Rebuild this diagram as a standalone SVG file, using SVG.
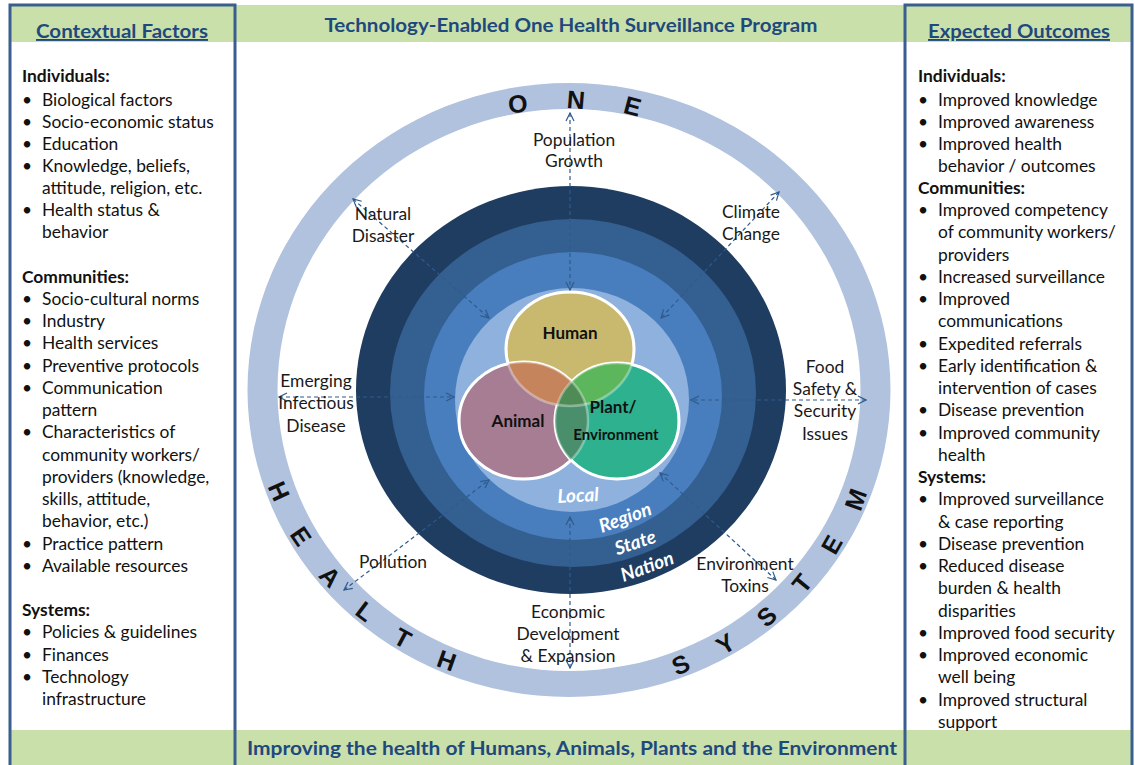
<svg xmlns="http://www.w3.org/2000/svg" width="1135" height="765" viewBox="0 0 1135 765">
<style>
.band{fill:#C9E0AB}
.box{fill:none;stroke:#3A5F8F;stroke-width:3}
.hdr{font-family:Lato,'Liberation Sans',sans-serif;font-weight:bold;font-size:19px;fill:#1F497D}
.li{font-family:Lato,'Liberation Sans',sans-serif;font-size:17.4px;fill:#111}
.lh{font-family:Lato,'Liberation Sans',sans-serif;font-size:17.4px;font-weight:bold;fill:#111}
.lbl{font-family:Lato,'Liberation Sans',sans-serif;font-size:17.4px;fill:#1a1a1a;text-anchor:middle}
.venn{font-family:Lato,'Liberation Sans',sans-serif;font-weight:bold;fill:#111;text-anchor:middle}
.lvl{font-family:Lato,'Liberation Sans',sans-serif;font-weight:bold;font-style:italic;font-size:19px;fill:#fff;text-anchor:middle}
.ring{font-family:'Liberation Sans',Arial,sans-serif;font-weight:bold;font-size:25px;fill:#111}
.con{fill:none;stroke:#2F5A8C;stroke-width:1.2;stroke-dasharray:4 3}
.wl{stroke:#fff;stroke-width:3}
</style>
<defs>
<marker id="ah" viewBox="0 0 10 10" refX="9" refY="5" markerWidth="10" markerHeight="10" markerUnits="userSpaceOnUse" orient="auto-start-reverse">
<path d="M1,1 L9,5 L1,9" fill="none" stroke="#2F5A8C" stroke-width="1.2"/>
</marker>
<path id="pTop" d="M 274,390 A 295 281 0 0 1 864,390"/>
<path id="pBot" d="M 252,390 A 317 303 0 0 0 886,390"/>
<clipPath id="cH"><ellipse cx="570" cy="349" rx="64" ry="57"/></clipPath>
<clipPath id="cA"><ellipse cx="523.5" cy="420.5" rx="64.5" ry="58.5"/></clipPath>
</defs>
<rect width="1135" height="765" fill="#fff"/>

<g id="bands">
<rect class="band" x="10" y="5" width="1122" height="37"/>
<rect class="band" x="10" y="730" width="1122" height="35"/>
</g>

<g id="title">
<text class="hdr" x="571" y="32" text-anchor="middle" textLength="493" lengthAdjust="spacingAndGlyphs">Technology-Enabled One Health Surveillance Program</text>
</g>
<g id="footer">
<text class="hdr" x="572" y="755" text-anchor="middle" textLength="650" lengthAdjust="spacingAndGlyphs">Improving the health of Humans, Animals, Plants and the Environment</text>
</g>

<g id="contextual-factors">
<rect class="box" x="10" y="5" width="225" height="780"/>
<text class="hdr" x="122" y="38" text-anchor="middle" text-decoration="underline" textLength="172" lengthAdjust="spacingAndGlyphs">Contextual Factors</text>
<text class="lh" x="22" y="82">Individuals:</text>
<text class="li"><tspan x="22" y="105.5">•</tspan><tspan x="42" y="105.5">Biological factors</tspan>
<tspan x="22" y="127.5">•</tspan><tspan x="42" y="127.5">Socio-economic status</tspan>
<tspan x="22" y="149.5">•</tspan><tspan x="42" y="149.5">Education</tspan>
<tspan x="22" y="171.5">•</tspan><tspan x="42" y="171.5">Knowledge, beliefs,</tspan>
<tspan x="42" y="193.75">attitude, religion, etc.</tspan>
<tspan x="22" y="216">•</tspan><tspan x="42" y="216">Health status &amp;</tspan>
<tspan x="42" y="238.25">behavior</tspan></text>
<text class="lh" x="22" y="282.5">Communities:</text>
<text class="li"><tspan x="22" y="304.75">•</tspan><tspan x="42" y="304.75">Socio-cultural norms</tspan>
<tspan x="22" y="327">•</tspan><tspan x="42" y="327">Industry</tspan>
<tspan x="22" y="349.25">•</tspan><tspan x="42" y="349.25">Health services</tspan>
<tspan x="22" y="371.5">•</tspan><tspan x="42" y="371.5">Preventive protocols</tspan>
<tspan x="22" y="393.75">•</tspan><tspan x="42" y="393.75">Communication</tspan>
<tspan x="42" y="416">pattern</tspan>
<tspan x="22" y="438.25">•</tspan><tspan x="42" y="438.25">Characteristics of</tspan>
<tspan x="42" y="460.5">community workers/</tspan>
<tspan x="42" y="482.75">providers (knowledge,</tspan>
<tspan x="42" y="505">skills, attitude,</tspan>
<tspan x="42" y="527.25">behavior, etc.)</tspan>
<tspan x="22" y="549.5">•</tspan><tspan x="42" y="549.5">Practice pattern</tspan>
<tspan x="22" y="571.75">•</tspan><tspan x="42" y="571.75">Available resources</tspan></text>
<text class="lh" x="22" y="616">Systems:</text>
<text class="li"><tspan x="22" y="638.25">•</tspan><tspan x="42" y="638.25">Policies &amp; guidelines</tspan>
<tspan x="22" y="660.5">•</tspan><tspan x="42" y="660.5">Finances</tspan>
<tspan x="22" y="682.75">•</tspan><tspan x="42" y="682.75">Technology</tspan>
<tspan x="42" y="705">infrastructure</tspan></text>
</g>

<g id="expected-outcomes">
<rect class="box" x="905" y="5" width="227" height="780"/>
<text class="hdr" x="1019" y="38" text-anchor="middle" text-decoration="underline" textLength="182" lengthAdjust="spacingAndGlyphs">Expected Outcomes</text>
<text class="lh" x="918" y="82">Individuals:</text>
<text class="li"><tspan x="918" y="105.5">•</tspan><tspan x="938" y="105.5">Improved knowledge</tspan>
<tspan x="918" y="127.5">•</tspan><tspan x="938" y="127.5">Improved awareness</tspan>
<tspan x="918" y="149.5">•</tspan><tspan x="938" y="149.5">Improved health</tspan>
<tspan x="938" y="171.5">behavior / outcomes</tspan></text>
<text class="lh" x="918" y="193.75">Communities:</text>
<text class="li"><tspan x="918" y="216">•</tspan><tspan x="938" y="216">Improved competency</tspan>
<tspan x="938" y="238.25">of community workers/</tspan>
<tspan x="938" y="260.5">providers</tspan>
<tspan x="918" y="282.75">•</tspan><tspan x="938" y="282.75">Increased surveillance</tspan>
<tspan x="918" y="305">•</tspan><tspan x="938" y="305">Improved</tspan>
<tspan x="938" y="327.25">communications</tspan>
<tspan x="918" y="349.5">•</tspan><tspan x="938" y="349.5">Expedited referrals</tspan>
<tspan x="918" y="371.75">•</tspan><tspan x="938" y="371.75">Early identification &amp;</tspan>
<tspan x="938" y="394">intervention of cases</tspan>
<tspan x="918" y="416.25">•</tspan><tspan x="938" y="416.25">Disease prevention</tspan>
<tspan x="918" y="438.5">•</tspan><tspan x="938" y="438.5">Improved community</tspan>
<tspan x="938" y="460.75">health</tspan></text>
<text class="lh" x="918" y="483">Systems:</text>
<text class="li"><tspan x="918" y="505.25">•</tspan><tspan x="938" y="505.25">Improved surveillance</tspan>
<tspan x="938" y="527.5">&amp; case reporting</tspan>
<tspan x="918" y="549.75">•</tspan><tspan x="938" y="549.75">Disease prevention</tspan>
<tspan x="918" y="572">•</tspan><tspan x="938" y="572">Reduced disease</tspan>
<tspan x="938" y="594.25">burden &amp; health</tspan>
<tspan x="938" y="616.5">disparities</tspan>
<tspan x="918" y="638.75">•</tspan><tspan x="938" y="638.75">Improved food security</tspan>
<tspan x="918" y="661">•</tspan><tspan x="938" y="661">Improved economic</tspan>
<tspan x="938" y="683.25">well being</tspan>
<tspan x="918" y="705.5">•</tspan><tspan x="938" y="705.5">Improved structural</tspan>
<tspan x="938" y="727.5">support</tspan></text>
</g>

<g id="one-health-system-ring">
<path fill="#B0C2DE" fill-rule="evenodd" d="M 247.5,390 a 321.5 307 0 1 0 643 0 a 321.5 307 0 1 0 -643 0 Z M 277.5,390 a 291.5 281 0 1 0 583 0 a 291.5 281 0 1 0 -583 0 Z"/>
<text class="ring" letter-spacing="38"><textPath href="#pTop" startOffset="392">ONE</textPath></text>
<text class="ring" letter-spacing="34"><textPath href="#pBot" startOffset="98">HEALTH</textPath></text>
<text class="ring" letter-spacing="34"><textPath href="#pBot" startOffset="596">SYSTEM</textPath></text>
</g>

<g id="nation"><ellipse cx="571" cy="390" rx="215" ry="204" fill="#1F3D60"/></g>
<g id="state"><ellipse cx="573" cy="393" rx="183" ry="174" fill="#345F91"/></g>
<g id="region"><ellipse cx="573" cy="396" rx="149" ry="144" fill="#487EBE"/></g>
<g id="local"><ellipse cx="572" cy="400" rx="117" ry="112" fill="#8EB1DE"/></g>

<g id="venn">
<g id="human"><ellipse class="wl" cx="570" cy="349" rx="64" ry="57" fill="#C8B96E"/></g>
<g id="animal"><ellipse class="wl" cx="523.5" cy="420.5" rx="64.5" ry="58.5" fill="#A67D93"/></g>
<g id="plant"><ellipse class="wl" cx="617" cy="421" rx="62" ry="58" fill="#2DB18F"/></g>
<ellipse cx="523.5" cy="420.5" rx="64.5" ry="58.5" fill="#C5845B" clip-path="url(#cH)"/>
<ellipse cx="617" cy="421" rx="62" ry="58" fill="#5CB65B" clip-path="url(#cH)"/>
<ellipse cx="617" cy="421" rx="62" ry="58" fill="#4A8F6C" clip-path="url(#cA)"/>
<g clip-path="url(#cH)"><ellipse cx="617" cy="421" rx="62" ry="58" fill="#4F8C55" clip-path="url(#cA)"/></g>
<g fill="none" stroke="#fff" stroke-opacity="0.35" stroke-width="2.5">
<ellipse cx="570" cy="349" rx="64" ry="57"/>
<ellipse cx="523.5" cy="420.5" rx="64.5" ry="58.5"/>
<ellipse cx="617" cy="421" rx="62" ry="58"/>
</g>
<text class="venn" x="570" y="339" font-size="17">Human</text>
<text class="venn" x="518" y="427" font-size="17">Animal</text>
<text class="venn" x="613" y="413" font-size="17">Plant/</text>
<text class="venn" x="616" y="440" font-size="15">Environment</text>
</g>

<g id="level-labels">
<text class="lvl" transform="translate(578,495) rotate(-3)" y="7">Local</text>
<text class="lvl" transform="translate(625,517) rotate(-20)" y="7">Region</text>
<text class="lvl" transform="translate(635,542) rotate(-18)" y="7">State</text>
<text class="lvl" transform="translate(647,566) rotate(-20)" y="7">Nation</text>
</g>

<g id="connectors">
<line class="con" x1="570" y1="113" x2="570" y2="290" marker-start="url(#ah)" marker-end="url(#ah)"/>
<line class="con" x1="353" y1="199" x2="489" y2="318" marker-start="url(#ah)" marker-end="url(#ah)"/>
<line class="con" x1="779" y1="192" x2="661" y2="318" marker-start="url(#ah)" marker-end="url(#ah)"/>
<line class="con" x1="279" y1="397" x2="454" y2="397" marker-start="url(#ah)" marker-end="url(#ah)"/>
<line class="con" x1="866" y1="400" x2="691" y2="400" marker-start="url(#ah)" marker-end="url(#ah)"/>
<line class="con" x1="344" y1="590" x2="489" y2="480" marker-start="url(#ah)" marker-end="url(#ah)"/>
<line class="con" x1="776" y1="580" x2="660" y2="473" marker-start="url(#ah)" marker-end="url(#ah)"/>
<line class="con" x1="570" y1="668" x2="570" y2="517" marker-start="url(#ah)" marker-end="url(#ah)"/>
</g>

<g id="factor-labels">
<text class="lbl"><tspan x="574" y="146">Population</tspan><tspan x="574" y="167">Growth</tspan></text>
<text class="lbl"><tspan x="383" y="220">Natural</tspan><tspan x="383" y="242">Disaster</tspan></text>
<text class="lbl"><tspan x="751" y="218">Climate</tspan><tspan x="751" y="240">Change</tspan></text>
<text class="lbl"><tspan x="316" y="387">Emerging</tspan><tspan x="316" y="409">Infectious</tspan><tspan x="316" y="432">Disease</tspan></text>
<text class="lbl"><tspan x="825" y="373">Food</tspan><tspan x="825" y="395">Safety &amp;</tspan><tspan x="825" y="417">Security</tspan><tspan x="825" y="440">Issues</tspan></text>
<text class="lbl" x="393" y="568">Pollution</text>
<text class="lbl"><tspan x="745" y="570">Environment</tspan><tspan x="745" y="592">Toxins</tspan></text>
<text class="lbl"><tspan x="568" y="618">Economic</tspan><tspan x="568" y="640">Development</tspan><tspan x="568" y="662">&amp; Expansion</tspan></text>
</g>
</svg>
